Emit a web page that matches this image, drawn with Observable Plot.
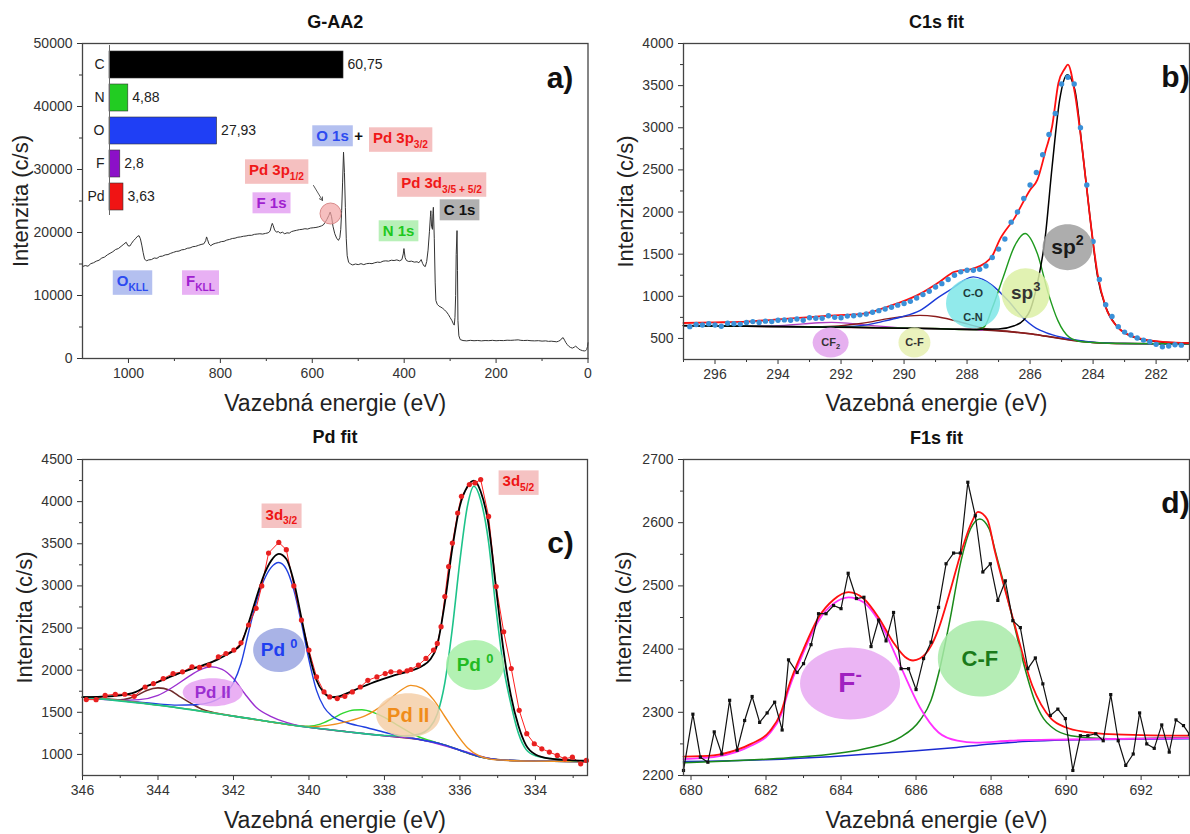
<!DOCTYPE html>
<html><head><meta charset="utf-8">
<script src="https://cdn.jsdelivr.net/npm/d3@7"></script>
<script src="https://cdn.jsdelivr.net/npm/@observablehq/plot@0.6"></script>
<style>
body{margin:0;background:#fff;}
#root{position:relative;width:1190px;height:834px;overflow:hidden;background:#fff;font-family:"Liberation Sans",Arial,sans-serif;}
#root svg{position:absolute;}
</style></head><body><div id="root"></div>
<script>
// ---------------- DATA ----------------
// a) survey spectrum [binding energy eV, intensity c/s]
const surveySpectrum = [
[1100,14600],[1094,14750],[1088,14650],[1082,15050],[1076,15200],[1070,15450],[1064,15600],[1058,15950],[1052,16100],[1046,16450],[1040,16700],[1034,16950],[1028,17300],[1022,17450],[1016,17800],[1010,18150],[1005,18450],[1001,17900],[997,17850],[993,18300],[989,18700],[985,19000],[981,19350],[977,19500],[974,19000],[971,18000],[968,16800],[965,15800],[961,15500],[956,15650],[950,15700],[944,15950],[938,15900],[932,16200],[926,16250],[920,16450],[914,16500],[908,16700],[902,16850],[896,17000],[890,17050],[884,17250],[878,17300],[872,17500],[866,17550],[860,17750],[854,17800],[848,17950],[842,18100],[836,18200],[832,18700],[830,19300],[828,18900],[825,18200],[821,17900],[816,18150],[810,18300],[804,18400],[798,18550],[792,18600],[786,18800],[780,18900],[774,19050],[768,19100],[762,19250],[756,19300],[750,19400],[744,19450],[738,19550],[732,19550],[726,19700],[720,19750],[714,19800],[708,19750],[702,19850],[696,19950],[692,20200],[689,21000],[687,21450],[685,21100],[682,20400],[678,20050],[674,20150],[670,19900],[665,20050],[660,19800],[655,19950],[650,19900],[645,20150],[640,20250],[634,20350],[628,20450],[622,20500],[616,20600],[610,20550],[604,20700],[598,20750],[592,20800],[586,20900],[580,21050],[576,21200],[572,21600],[568,22100],[564,22700],[561,23250],[558,22500],[555,21000],[551,19800],[547,19100],[543,18750],[540,19200],[538,20500],[536,23500],[534,28000],[532,32750],[530,29500],[528,24000],[526,19000],[524,16300],[521,15300],[517,15000],[512,14850],[506,15000],[500,14900],[494,15050],[488,14900],[482,15050],[476,15100],[470,15050],[464,15200],[458,15300],[452,15250],[446,15450],[440,15500],[434,15450],[428,15600],[422,15550],[416,15650],[410,15500],[405,15700],[402,16600],[400.5,17450],[398,16000],[395,15550],[390,15400],[384,15450],[378,15300],[372,15350],[368,15200],[365,15500],[363,15700],[360,15100],[357,14700],[354,14600],[351,15400],[348,17200],[345,20200],[343,22500],[342,23450],[340.5,21000],[338.5,20500],[337.5,23000],[336.5,24000],[334.5,19000],[332.5,12000],[331,9200],[328,8600],[324,8300],[320,8150],[316,7950],[312,7700],[308,7400],[304,7000],[300,6500],[296,6000],[293,5500],[291,5300],[289.5,6500],[288,10000],[286.8,16500],[285,20300],[284,14000],[283,6000],[281,3600],[278,3000],[272,2850],[264,2800],[256,2880],[248,2820],[240,2860],[232,2800],[224,2850],[216,2830],[208,2880],[200,2820],[192,2860],[184,2840],[176,2900],[168,2880],[160,2920],[152,2960],[146,2880],[140,2850],[132,2880],[124,2820],[116,2800],[108,2830],[100,2760],[92,2800],[86,2720],[80,2750],[74,2700],[68,2650],[64,2750],[60,2900],[57,3200],[54,3300],[51,2900],[48,2500],[45,2200],[42,1950],[38,1750],[34,1650],[30,1800],[27,1950],[24,1800],[20,1500],[16,1350],[12,1250],[8,1200],[5,1250],[3,1400],[1,1900],[0,2500]
];
// a) inset: atomic composition (%)
const elements = ["C", "N", "O", "F", "Pd"];
const atomicPercent = [60.75, 4.88, 27.93, 2.8, 3.63];
// a) peak annotations [label, energy, intensity, element]
const surveyLabels = [
  ["O 1s", 555.9, 35240, "O"],
  ["Pd 3p_{3/2}", 408, 34920, "Pd"],
  ["Pd 3p_{1/2}", 677.8, 29840, "Pd"],
  ["F 1s", 688.7, 24600, "F"],
  ["Pd 3d_{3/5 + 5/2}", 318.7, 27780, "Pd"],
  ["C 1s", 279.5, 23490, "C"],
  ["N 1s", 412.3, 20160, "N"],
  ["O_{KLL}", 991.2, 12220, "O"],
  ["F_{KLL}", 843.2, 12220, "F"]
];
const plusSign = [["+", 499.3, 35240]];
const pd3pMarker = [[560.3, 23015]];
const pd3pArrow = [[597.3, 27460, 577.7, 25080]];

// b) C1s
const c1sPoints = [[296.8,640],[296.6,665],[296.4,660],[296.2,675],[296.0,660],[295.8,645],[295.6,680],[295.4,675],[295.2,670],[295.0,690],[294.8,700],[294.6,690],[294.4,705],[294.2,700],[294.0,715],[293.8,720],[293.6,715],[293.4,730],[293.2,715],[293.0,745],[292.8,740],[292.6,740],[292.4,770],[292.2,750],[292.0,745],[291.8,765],[291.6,770],[291.4,780],[291.2,790],[291.0,810],[290.8,830],[290.6,850],[290.4,870],[290.2,895],[290.0,915],[289.8,940],[289.6,980],[289.4,1020],[289.2,1060],[289.0,1110],[288.8,1150],[288.6,1200],[288.4,1250],[288.2,1290],[288.0,1310],[287.8,1310],[287.6,1320],[287.4,1360],[287.2,1460],[287.0,1560],[286.8,1680],[286.6,1880],[286.4,2000],[286.2,2160],[286.0,2320],[285.8,2470],[285.6,2680],[285.4,2920],[285.2,3170],[285.0,3520],[284.8,3600],[284.6,3520],[284.4,3000],[284.2,2320],[284.0,1650],[283.8,1200],[283.6,900],[283.4,760],[283.2,640],[283.0,575],[282.8,540],[282.6,505],[282.4,480],[282.2,460],[282.0,430],[281.8,400],[281.6,410],[281.4,425],[281.2,420]];
const c1sBaseline = [[297,652],[295,645],[293,637],[291,628],[289.5,620],[288.5,612],[287.5,600],[287,590],[286.5,575],[286,555],[285.5,527],[285,498],[284.5,470],[284,452],[283.5,443],[283,439],[282,437],[280.94,436]];
const c1sCF2 = [[297,652],[294.5,648],[293.8,655],[293.2,672],[292.7,686],[292.3,690],[291.8,682],[291.3,665],[290.8,645],[290.2,628],[289.5,620],[288.5,612],[287.5,600]];
const c1sCF = [[297,652],[293,638],[292.2,645],[291.5,672],[291,700],[290.5,735],[290,760],[289.5,774],[289,760],[288.5,722],[288,672],[287.6,632],[287.2,605],[286.8,588],[286.3,568],[286,555],[285.5,527],[285,498],[284.5,470],[284,452],[283,439],[282,437],[280.94,436]];
const c1sCO = [[297,652],[293,638],[292,640],[291.3,655],[290.7,700],[290.1,754],[289.5,830],[288.9,990],[288.4,1110],[288.1,1190],[287.8,1230],[287.5,1200],[287.2,1130],[286.7,950],[286.25,754],[285.8,620],[285.5,570],[285,515],[284.5,480],[284,456],[283,440],[282,437],[280.94,436]];
const c1sSp3 = [[297,652],[292,635],[289,617],[288,604],[287.7,603],[287.45,640],[287.2,860],[286.85,1230],[286.5,1590],[286.16,1746],[285.77,1508],[285.42,1032],[285.12,714],[284.76,516],[284.34,460],[284,452],[283,440],[280.94,436]];
const c1sSp2 = [[297,652],[295,645],[293,637],[291,628],[289,615],[288,608],[287,612],[286.5,650],[286.2,720],[286,833],[285.77,1150],[285.53,1667],[285.3,2540],[285.06,3333],[284.82,3630],[284.58,3452],[284.34,2738],[284.1,1944],[283.86,1240],[283.6,873],[283.27,655],[282.97,560],[282.67,510],[282.3,475],[281.7,456],[280.94,446]];
const c1sEnvelope = [[297,683],[296,690],[295,700],[294,725],[292.95,754],[292.2,774],[291.27,794],[290.55,873],[290.08,933],[289.48,1032],[288.88,1170],[288.4,1290],[287.8,1330],[287.45,1389],[287.2,1480],[286.97,1667],[286.5,1925],[286.0,2262],[285.77,2381],[285.5,2738],[285.3,3016],[285.1,3532],[284.9,3700],[284.8,3750],[284.58,3413],[284.34,2738],[284.1,1944],[283.86,1270],[283.6,873],[283.27,655],[282.67,516],[281.7,456],[280.94,444]];
const c1sLabels = [["sp^{2}", 284.81, 1583, "sp2"], ["sp^{3}", 286.14, 1036, "sp3"], ["C-O", 287.81, 1036, "CO"], ["C-N", 287.81, 750, "CO"], ["CF_{2}", 292.33, 452, "CF2"], ["C-F", 289.67, 452, "CF"]];
const c1sBlobs = [[284.81, 1583, "sp2"], [286.14, 1036, "sp3"], [287.81, 917, "CO"], [292.33, 452, "CF2"], [289.67, 452, "CF"]];

// c) Pd 3d
const pdPoints = [[345.9,1651],[345.64,1650],[345.4,1700],[345.13,1714],[344.88,1714],[344.63,1690],[344.34,1800],[344.12,1841],[343.86,1900],[343.6,1960],[343.35,1980],[343.1,2040],[342.9,2032],[342.65,2060],[342.4,2159],[342.2,2198],[341.99,2238],[341.8,2325],[341.6,2536],[341.4,2734],[341.25,3000],[341.07,3390],[340.8,3516],[340.6,3430],[340.4,3000],[340.2,2595],[340.0,2238],[339.8,1920],[339.6,1742],[339.45,1683],[339.25,1663],[339.05,1690],[338.85,1742],[338.64,1800],[338.44,1880],[338.2,1920],[337.98,1960],[337.83,1980],[337.6,1980],[337.4,1992],[337.3,2008],[337.1,2060],[336.9,2139],[336.7,2238],[336.6,2317],[336.5,2516],[336.4,2873],[336.3,3230],[336.2,3508],[336.06,3865],[335.96,4063],[335.75,4202],[335.6,4222],[335.45,4262],[335.24,3825],[335.04,2992],[334.84,2456],[334.64,2020],[334.43,1524],[334.23,1246],[334.03,1127],[333.83,1067],[333.63,1028],[333.42,988],[333.22,948],[333.02,968],[332.8,889],[332.65,929]];
const pdSatellite = [[346,1680],[345.5,1662],[345,1648],[344.6,1690],[344.3,1760],[344,1790],[343.7,1765],[343.4,1680],[343.1,1600],[342.8,1530],[342.4,1485],[342,1455],[341,1385],[340,1322],[339,1270],[338,1222],[337,1172],[336.5,1125],[336,1050],[335.5,975],[335,938],[334.5,925],[334,920],[333,917],[332.62,915]];
const pdIIa = [[346,1680],[345,1642],[344.5,1650],[344,1700],[343.6,1800],[343.2,1920],[342.9,2000],[342.6,2040],[342.3,2010],[342,1900],[341.7,1720],[341.4,1560],[341,1450],[340.6,1380],[340.2,1335],[340,1322],[339,1270],[338,1222],[337,1172],[336,1050],[335,938],[334,920],[332.62,915]];
const pd0a = [[346,1680],[345,1642],[344,1600],[343.5,1585],[343,1590],[342.6,1620],[342.3,1690],[342,1850],[341.8,2080],[341.6,2450],[341.4,2800],[341.2,3060],[341,3220],[340.8,3278],[340.6,3200],[340.4,2950],[340.2,2560],[340,2120],[339.8,1760],[339.6,1560],[339.4,1460],[339.05,1385],[338.54,1325],[338.03,1266],[337.5,1215],[337,1172],[336.5,1125],[336,1050],[335.5,975],[335,938],[334,920],[332.62,915]];
const pdSmall = [[346,1680],[345,1640],[344,1585],[343,1525],[342,1455],[341,1385],[340.4,1345],[340,1335],[339.7,1360],[339.4,1420],[339.1,1490],[338.8,1528],[338.6,1530],[338.3,1500],[338,1440],[337.7,1360],[337.4,1280],[337.1,1210],[336.8,1165],[336.5,1125],[336,1050],[335.5,975],[335,938],[334,920],[332.62,915]];
const pdIIb = [[346,1680],[345,1640],[344,1585],[343,1525],[342,1455],[341,1385],[340,1330],[339.5,1345],[339,1390],[338.5,1460],[338,1600],[337.6,1750],[337.3,1820],[337,1785],[336.7,1650],[336.4,1450],[336.1,1250],[335.8,1080],[335.5,985],[335.2,945],[335,935],[334,920],[332.62,915]];
const pd0b = [[346,1680],[344,1585],[342,1455],[340,1322],[339,1270],[338,1225],[337.5,1220],[337.1,1240],[336.8,1320],[336.6,1480],[336.4,1850],[336.2,2500],[336,3300],[335.8,3950],[335.63,4183],[335.45,4020],[335.25,3550],[335.05,2750],[334.85,2050],[334.65,1600],[334.45,1250],[334.25,1060],[334,985],[333.5,945],[333,925],[332.62,920]];
const pdEnvelope = [[346,1680],[345.5,1685],[345,1700],[344.6,1740],[344.3,1810],[344,1860],[343.6,1935],[343.2,2000],[342.8,2060],[342.5,2110],[342.2,2180],[342,2230],[341.8,2310],[341.6,2560],[341.4,2850],[341.2,3120],[341,3300],[340.8,3380],[340.6,3320],[340.4,3050],[340.2,2620],[340,2200],[339.8,1880],[339.6,1730],[339.4,1680],[339.2,1690],[339,1725],[338.6,1800],[338.2,1870],[337.8,1930],[337.4,1980],[337,2050],[336.8,2120],[336.6,2300],[336.4,2800],[336.2,3450],[336,3950],[335.8,4180],[335.63,4250],[335.45,4120],[335.25,3750],[335.05,3000],[334.85,2250],[334.65,1700],[334.45,1340],[334.25,1110],[334,1000],[333.6,950],[333,930],[332.62,925]];
const pdLabels = [["3d_{3/2}", 340.73, 3845], ["3d_{5/2}", 334.45, 4238]];
const pdBlobs = [["Pd ^{0}", 340.79, 2238, "Pd0a"], ["Pd ^{0}", 335.6, 2060, "Pd0b"], ["Pd II", 342.55, 1738, "PdIIa"], ["Pd II", 337.37, 1464, "PdIIb"]];

// d) F1s
const f1sPoints = [[679.8,2208],[680.05,2297],[680.25,2229],[680.45,2221],[680.62,2269],[680.82,2234],[681.03,2319],[681.23,2240],[681.43,2287],[681.63,2325],[681.83,2284],[682.03,2299],[682.23,2316],[682.43,2272],[682.6,2383],[682.83,2363],[683.0,2377],[683.2,2407],[683.4,2456],[683.6,2456],[683.8,2469],[684.0,2464],[684.19,2520],[684.41,2480],[684.61,2482],[684.8,2404],[685.0,2446],[685.2,2413],[685.4,2458],[685.6,2369],[685.8,2369],[686.0,2336],[686.2,2385],[686.4,2411],[686.6,2466],[686.8,2535],[687.0,2552],[687.18,2552],[687.38,2664],[687.58,2611],[687.78,2522],[687.98,2535],[688.18,2477],[688.38,2508],[688.58,2445],[688.78,2434],[688.98,2369],[689.18,2386],[689.38,2345],[689.58,2295],[689.78,2305],[689.98,2290],[690.18,2208],[690.38,2263],[690.58,2263],[690.79,2266],[690.99,2255],[691.19,2328],[691.39,2255],[691.59,2216],[691.79,2234],[691.96,2299],[692.15,2250],[692.35,2243],[692.55,2280],[692.75,2237],[692.93,2288],[693.13,2279],[693.29,2265]];
const f1sEnvelope = [[679.8,2230],[680.6,2232],[681.2,2240],[681.6,2250],[682.1,2270],[682.4,2300],[682.6,2340],[683,2400],[683.4,2450],[683.8,2478],[684.2,2490],[684.6,2480],[685,2450],[685.4,2410],[685.7,2388],[685.92,2382],[686.1,2385],[686.4,2405],[686.6,2432],[686.9,2490],[687.2,2553],[687.5,2603],[687.65,2617],[687.9,2605],[688.1,2555],[688.6,2445],[689.1,2342],[689.6,2290],[690,2276],[690.5,2269],[691,2266],[692,2264],[693.29,2263]];
const f1sFluoride = [[679.8,2226],[680.6,2229],[681.2,2237],[681.6,2247],[682.1,2267],[682.4,2296],[682.6,2335],[683,2395],[683.4,2445],[683.8,2472],[684.2,2482],[684.6,2474],[685.1,2435],[685.6,2371],[686.1,2308],[686.6,2268],[687.1,2255],[687.6,2252],[688.5,2255],[690,2257],[693.29,2259]];
const f1sCF = [[679.8,2220],[681,2223],[682.6,2228],[684.6,2242],[685.6,2261],[686.1,2287],[686.4,2319],[686.6,2361],[686.9,2445],[687.2,2540],[687.45,2590],[687.7,2606],[687.95,2590],[688.13,2551],[688.4,2490],[688.63,2435],[688.9,2370],[689.13,2324],[689.4,2290],[689.63,2276],[690.13,2263],[691.1,2258],[693.29,2260]];
const f1sBaseline = [[679.8,2222],[682,2225],[684,2231],[686,2239],[687,2244],[688,2250],[689,2254],[690,2256],[691,2257],[693.29,2258]];
const f1sBlobs = [["F^{-}", 684.24, 2345.6, "Fm"], ["C-F", 687.7, 2385, "CF"]];

// ---------------- STYLES ----------------
const FONT = '"Liberation Sans", Arial, sans-serif';
const NS = "http://www.w3.org/2000/svg";
const elementColor = {C: "#000000", N: "#22cc22", O: "#1f3ff5", F: "#8c10c8", Pd: "#f01414"};
const labelText = {O: "#2d4bf0", Pd: "#f01818", F: "#a020d0", N: "#1ec81e", C: "#111111"};
const labelBox = {O: "#b4c0f0", Pd: "#f5c0c0", F: "#e8b0f4", N: "#b8f0b8", C: "#b0b0b0", red: "#f5c2c2"};
const blobStyle = {
  sp2: {fill: "#9f9f9f", rx: 25, ry: 23, text: "#1a1a1a", size: 21},
  sp3: {fill: "#dcf0a4", rx: 24, ry: 25, text: "#333", size: 19},
  CO: {fill: "#7ee6e8", rx: 27, ry: 25, text: "#1e3a3a", size: 11},
  CF2: {fill: "#e2a2ec", rx: 18, ry: 15, text: "#333", size: 11},
  CF: {fill: "#e6f0b2", rx: 16, ry: 15, text: "#333", size: 11},
  Pd0a: {fill: "#9aa6e2", rx: 26, ry: 22, text: "#1f3ff0", size: 19},
  Pd0b: {fill: "#a6eea6", rx: 29, ry: 25, text: "#22bb22", size: 19},
  PdIIa: {fill: "#e6a2f2", rx: 30, ry: 14, text: "#9b2fd0", size: 17},
  PdIIb: {fill: "#f5cfa8", rx: 32, ry: 22, text: "#f08c1a", size: 20},
  Fm: {fill: "#e8a8f2", rx: 50, ry: 36, text: "#a020c0", size: 28},
  CFd: {fill: "#a8eaa8", rx: 42, ry: 38, text: "#1a7a1a", size: 22}
};

function ellipseSymbol(rx, ry) {
  const k = 0.5523;
  return {draw(ctx) {
    ctx.moveTo(rx, 0);
    ctx.bezierCurveTo(rx, ry * k, rx * k, ry, 0, ry);
    ctx.bezierCurveTo(-rx * k, ry, -rx, ry * k, -rx, 0);
    ctx.bezierCurveTo(-rx, -ry * k, -rx * k, -ry, 0, -ry);
    ctx.bezierCurveTo(rx * k, -ry, rx, -ry * k, rx, 0);
    ctx.closePath();
  }};
}

function blobMarks(blobs, keyIdx, styleKey) {
  const marks = [];
  for (const b of blobs) {
    const st = blobStyle[styleKey ? styleKey(b) : b[keyIdx]];
    const xi = b.length === 3 ? 0 : 1;
    marks.push(Plot.dot([b], {x: d => d[xi], y: d => d[xi + 1], symbol: ellipseSymbol(st.rx, st.ry), fill: st.fill, fillOpacity: 0.85, stroke: "none"}));
  }
  return marks;
}

function richify(svg) {
  for (const t of svg.querySelectorAll("text")) {
    const s = t.textContent;
    if (!/[_^]\{/.test(s) || t.querySelector("tspan")) continue;
    const fs = parseFloat(getComputedStyle(t).fontSize) || 14;
    const parts = s.split(/([_^]\{[^}]*\})/).filter(p => p);
    t.textContent = "";
    let cur = 0;
    for (const p of parts) {
      const ts = document.createElementNS(NS, "tspan");
      let off = 0, txt = p;
      if (p.startsWith("_{")) { off = 0.3 * fs; txt = p.slice(2, -1); ts.setAttribute("font-size", (0.68 * fs) + "px"); }
      else if (p.startsWith("^{")) { off = -0.42 * fs; txt = p.slice(2, -1); ts.setAttribute("font-size", (0.68 * fs) + "px"); }
      if (off !== cur) { ts.setAttribute("dy", (off - cur) + "px"); cur = off; }
      ts.textContent = txt;
      t.appendChild(ts);
    }
  }
}

function boxify(svg) {
  for (const t of svg.querySelectorAll("text[aria-label^='box']")) {
    const key = t.getAttribute("aria-label").split(" ")[1];
    const b = t.getBBox();
    const r = document.createElementNS(NS, "rect");
    r.setAttribute("x", b.x - 4); r.setAttribute("y", b.y - 2);
    r.setAttribute("width", b.width + 8); r.setAttribute("height", b.height + 4);
    r.setAttribute("fill", labelBox[key]);
    if (t.getAttribute("transform")) r.setAttribute("transform", t.getAttribute("transform"));
    t.parentNode.insertBefore(r, t);
  }
}

const root = document.getElementById("root");
const baseStyle = {fontFamily: FONT, fontSize: "14px", color: "#333", background: "transparent", overflow: "visible"};
const X = d => d[0], Y = d => d[1];

function panel(cfg) {
  const svg = Plot.plot({
    width: cfg.width, height: cfg.height,
    marginLeft: cfg.ml, marginRight: cfg.mr, marginTop: cfg.mt, marginBottom: cfg.mb,
    x: {domain: cfg.xDomain}, y: {domain: cfg.yDomain},
    style: baseStyle,
    marks: [
      Plot.axisX(cfg.xMinor, {tickSize: 3, tickFormat: () => "", label: null}),
      Plot.axisX(cfg.xTicks, {tickSize: 5, tickPadding: 5, tickFormat: d => String(d), label: null, fontSize: 14}),
      Plot.axisY(cfg.yMinor, {tickSize: 3, tickFormat: () => "", label: null}),
      Plot.axisY(cfg.yTicks, {tickSize: 5, tickPadding: 5, tickFormat: d => String(d), label: null, fontSize: 14}),
      ...cfg.marks,
      Plot.frame({stroke: "#444", strokeWidth: 1.3}),
      Plot.text([cfg.title], {frameAnchor: "top", dy: cfg.titleDy, fontSize: 18, fontWeight: "bold", fill: "#111", lineAnchor: "middle"}),
      Plot.text(["Vazebná energie (eV)"], {frameAnchor: "bottom", dy: cfg.xlabDy, fontSize: 23, fill: "#222", lineAnchor: "middle"}),
      Plot.text(["Intenzita (c/s)"], {frameAnchor: "left", dx: cfg.ylabDx, rotate: -90, fontSize: 22, fill: "#222", lineAnchor: "middle", textAnchor: "middle"}),
      Plot.text([cfg.letter], {frameAnchor: "top-right", dx: cfg.letterDx, dy: cfg.letterDy, fontSize: 30, fontWeight: "bold", fill: "#111", textAnchor: "middle", lineAnchor: "middle"})
    ]
  });
  svg.style.left = cfg.left + "px";
  svg.style.top = cfg.top + "px";
  root.appendChild(svg);
  richify(svg);
  boxify(svg);
  return svg;
}

// ---------------- PANEL A ----------------
panel({
  left: 0, top: 0, width: 600, height: 420, ml: 82, mr: 12.5, mt: 43, mb: 62,
  xDomain: [1100, 0], yDomain: [0, 50000],
  xTicks: [1000, 800, 600, 400, 200, 0], xMinor: [900, 700, 500, 300, 100],
  yTicks: [0, 10000, 20000, 30000, 40000, 50000], yMinor: [5000, 15000, 25000, 35000, 45000],
  title: "G-AA2", letter: "a)", letterDx: -28, letterDy: 35, ylabDx: -62, titleDy: -21, xlabDy: 45,
  marks: [
    Plot.line(surveySpectrum, {x: X, y: Y, stroke: "#333", strokeWidth: 1}),
    Plot.dot(pd3pMarker, {x: X, y: Y, r: 10.5, fill: "#f2a4a4", fillOpacity: 0.7, stroke: "#d88a8a", strokeWidth: 1}),
    Plot.arrow(pd3pArrow, {x1: d => d[0], y1: d => d[1], x2: d => d[2], y2: d => d[3], stroke: "#444", strokeWidth: 0.9, headLength: 6}),
    Plot.text(surveyLabels, {x: d => d[1], y: d => d[2], text: d => d[0], fill: d => labelText[d[3]], ariaLabel: d => "box " + d[3], fontSize: 15, fontWeight: "bold", lineAnchor: "middle"}),
    Plot.text(plusSign, {x: d => d[1], y: d => d[2], text: d => d[0], fill: "#111", fontSize: 15, fontWeight: "bold", lineAnchor: "middle"})
  ]
});

// inset bar chart (atomic %)
const atomic = elements.map((el, i) => ({el, v: atomicPercent[i]}));
const inset = Plot.plot({
  width: 320, height: 172, marginLeft: 27, marginRight: 0, marginTop: 2, marginBottom: 0,
  x: {domain: [0, 76.06], axis: null},
  y: {domain: elements, type: "band", paddingInner: 0.19, paddingOuter: 0.1, axis: null},
  style: baseStyle,
  marks: [
    Plot.barX(atomic, {x: "v", y: "el", fill: d => elementColor[d.el], stroke: "#333", strokeWidth: 0.6}),
    Plot.ruleX([0], {stroke: "#666", strokeWidth: 1}),
    Plot.text(atomic, {x: "v", y: "el", text: d => String(d.v).replace(".", ","), dx: 4, textAnchor: "start", fill: "#222", fontSize: 14}),
    Plot.text(atomic, {x: 0, y: "el", text: "el", dx: -5, textAnchor: "end", fill: "#222", fontSize: 14})
  ]
});
inset.style.left = "82px"; inset.style.top = "43px";
root.appendChild(inset);

// ---------------- PANEL B ----------------
const cLbl = (arr) => Plot.text(arr, {x: d => d[1], y: d => d[2], text: d => d[0], fill: d => blobStyle[d[3]].text, fontSize: d => blobStyle[d[3]].size, fontWeight: "bold", lineAnchor: "middle"});
panel({
  left: 600, top: 0, width: 590, height: 420, ml: 83, mr: 1, mt: 43, mb: 61,
  xDomain: [297, 280.94], yDomain: [250, 4000],
  xTicks: [296, 294, 292, 290, 288, 286, 284, 282], xMinor: [297, 295, 293, 291, 289, 287, 285, 283, 281],
  yTicks: [500, 1000, 1500, 2000, 2500, 3000, 3500, 4000], yMinor: [750, 1250, 1750, 2250, 2750, 3250, 3750],
  title: "C1s fit", letter: "b)", letterDx: -14, letterDy: 34, ylabDx: -58, titleDy: -21, xlabDy: 44,
  marks: [
    Plot.line(c1sBaseline, {x: X, y: Y, stroke: "#7a1e1e", strokeWidth: 1.6, curve: "monotone-x"}),
    Plot.line(c1sCF2, {x: X, y: Y, stroke: "#b040c0", strokeWidth: 1.3, curve: "monotone-x"}),
    Plot.line(c1sCF, {x: X, y: Y, stroke: "#8b1c1c", strokeWidth: 1.4, curve: "monotone-x"}),
    Plot.line(c1sCO, {x: X, y: Y, stroke: "#1a3ad8", strokeWidth: 1.4, curve: "monotone-x"}),
    Plot.line(c1sSp3, {x: X, y: Y, stroke: "#1e9a1e", strokeWidth: 1.4, curve: "monotone-x"}),
    Plot.line(c1sSp2, {x: X, y: Y, stroke: "#000", strokeWidth: 1.5, curve: "monotone-x"}),
    Plot.line(c1sEnvelope, {x: X, y: Y, stroke: "#ff1010", strokeWidth: 1.8, curve: "monotone-x"}),
    Plot.dot(c1sPoints, {x: X, y: Y, r: 2.7, fill: "#3a90d8", stroke: "none"}),
    ...c1sBlobs.map(b => Plot.dot([b], {x: X, y: Y, symbol: ellipseSymbol(blobStyle[b[2]].rx, blobStyle[b[2]].ry), fill: blobStyle[b[2]].fill, fillOpacity: 0.85, stroke: "none"})),
    cLbl(c1sLabels)
  ]
});

// ---------------- PANEL C ----------------
panel({
  left: 0, top: 420, width: 600, height: 414, ml: 82, mr: 13, mt: 39, mb: 59,
  xDomain: [346, 332.62], yDomain: [750, 4500],
  xTicks: [346, 344, 342, 340, 338, 336, 334], xMinor: [345, 343, 341, 339, 337, 335, 333],
  yTicks: [1000, 1500, 2000, 2500, 3000, 3500, 4000, 4500], yMinor: [1250, 1750, 2250, 2750, 3250, 3750, 4250],
  title: "Pd fit", letter: "c)", letterDx: -27, letterDy: 84, ylabDx: -58, titleDy: -22, xlabDy: 45,
  marks: [
    Plot.line(pdSatellite, {x: X, y: Y, stroke: "#6e2a2a", strokeWidth: 1.6, curve: "monotone-x"}),
    Plot.line(pdSmall, {x: X, y: Y, stroke: "#30d830", strokeWidth: 1.4, curve: "monotone-x"}),
    Plot.line(pdIIa, {x: X, y: Y, stroke: "#9b30d0", strokeWidth: 1.4, curve: "monotone-x"}),
    Plot.line(pd0a, {x: X, y: Y, stroke: "#2040e0", strokeWidth: 1.4, curve: "monotone-x"}),
    Plot.line(pdIIb, {x: X, y: Y, stroke: "#f0901e", strokeWidth: 1.4, curve: "monotone-x"}),
    Plot.line(pd0b, {x: X, y: Y, stroke: "#1ec38a", strokeWidth: 1.6, curve: "monotone-x"}),
    Plot.line(pdPoints, {x: X, y: Y, stroke: "#ff2020", strokeWidth: 1}),
    Plot.line(pdEnvelope, {x: X, y: Y, stroke: "#000", strokeWidth: 1.8, curve: "monotone-x"}),
    Plot.dot(pdPoints, {x: X, y: Y, r: 2.6, fill: "#e82020", stroke: "none"}),
    ...pdBlobs.map(b => Plot.dot([b], {x: d => d[1], y: d => d[2], symbol: ellipseSymbol(blobStyle[b[3]].rx, blobStyle[b[3]].ry), fill: blobStyle[b[3]].fill, fillOpacity: 0.85, stroke: "none"})),
    cLbl(pdBlobs),
    Plot.text(pdLabels, {x: d => d[1], y: d => d[2], text: d => d[0], fill: "#ee1414", ariaLabel: () => "box red", fontSize: 15, fontWeight: "bold", lineAnchor: "middle"})
  ]
});

// ---------------- PANEL D ----------------
panel({
  left: 600, top: 420, width: 590, height: 414, ml: 83, mr: 1, mt: 39, mb: 59,
  xDomain: [679.8, 693.29], yDomain: [2200, 2700],
  xTicks: [680, 682, 684, 686, 688, 690, 692], xMinor: [681, 683, 685, 687, 689, 691, 693],
  yTicks: [2200, 2300, 2400, 2500, 2600, 2700], yMinor: [2250, 2350, 2450, 2550, 2650],
  title: "F1s fit", letter: "d)", letterDx: -14, letterDy: 44, ylabDx: -60, titleDy: -21, xlabDy: 45,
  marks: [
    Plot.line(f1sBaseline, {x: X, y: Y, stroke: "#1a2ad0", strokeWidth: 1.5, curve: "monotone-x"}),
    Plot.line(f1sCF, {x: X, y: Y, stroke: "#1a8a1a", strokeWidth: 1.5, curve: "monotone-x"}),
    Plot.line(f1sFluoride, {x: X, y: Y, stroke: "#ff30ff", strokeWidth: 1.8, curve: "monotone-x"}),
    Plot.line(f1sEnvelope, {x: X, y: Y, stroke: "#ff1010", strokeWidth: 1.8, curve: "monotone-x"}),
    Plot.line(f1sPoints, {x: X, y: Y, stroke: "#111", strokeWidth: 1.2}),
    Plot.dot(f1sPoints, {x: X, y: Y, symbol: "square", r: 1.8, fill: "#111", stroke: "none"}),
    ...f1sBlobs.map(b => { const st = blobStyle[b[3] === "CF" ? "CFd" : b[3]]; return Plot.dot([b], {x: d => d[1], y: d => d[2], symbol: ellipseSymbol(st.rx, st.ry), fill: st.fill, fillOpacity: 0.85, stroke: "none"}); }),
    Plot.text(f1sBlobs, {x: d => d[1], y: d => d[2], text: d => d[0], fill: d => blobStyle[d[3] === "CF" ? "CFd" : d[3]].text, fontSize: d => blobStyle[d[3] === "CF" ? "CFd" : d[3]].size, fontWeight: "bold", lineAnchor: "middle"})
  ]
});
</script></body></html>
